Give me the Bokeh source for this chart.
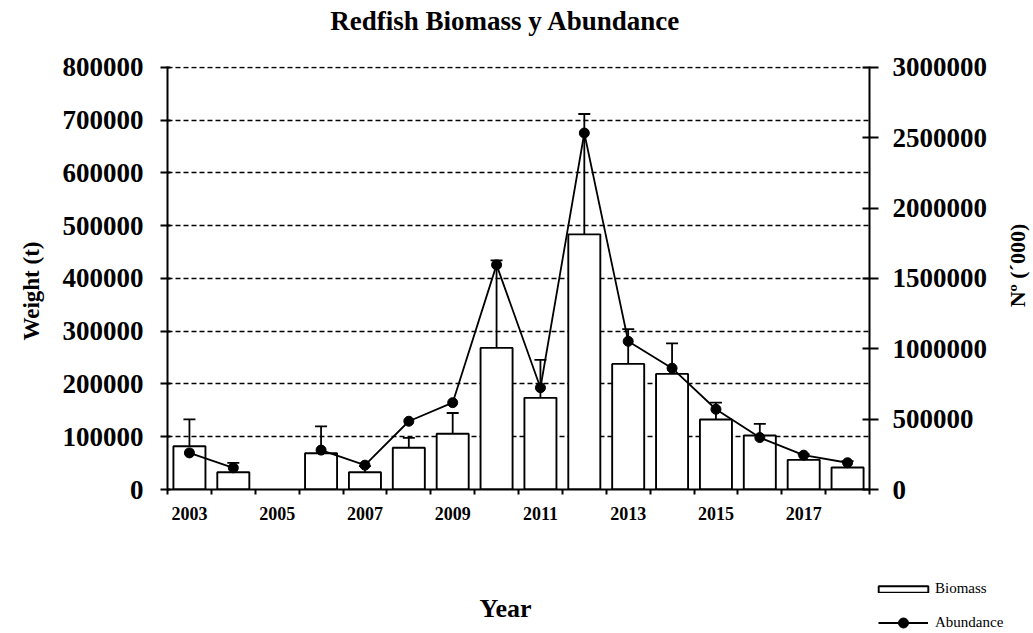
import math
from bokeh.plotting import figure
from bokeh.layouts import column, row
from bokeh.models import (Range1d, LinearAxis, FixedTicker, NumeralTickFormatter,
                          ColumnDataSource, Whisker, TeeHead, Label, Legend, LegendItem, Title)
from bokeh.embed import file_html
from bokeh.resources import INLINE

# ---------------- data ----------------
years = [2003, 2004, 2005, 2006, 2007, 2008, 2009, 2010,
         2011, 2012, 2013, 2014, 2015, 2016, 2017, 2018]
biomass = [82000, 32800, None, 68800, 32800, 79000, 105500, 268300,
           173700, 483500, 238000, 219000, 132600, 102300, 56200, 41700]
biomass_err = [51000, 17500, None, 50800, 11500, 19000, 39500, 166000,
               72000, 228000, 66000, 58000, 32000, 22000, 10400, 12000]
abundance = [260000, 154000, None, 280000, 173000, 485000, 617000, 1596000,
             723000, 2533000, 1053000, 862000, 570000, 369000, 244000, 190000]
x_label_years = [2003, 2005, 2007, 2009, 2011, 2013, 2015, 2017]
left_ticks = [0, 100000, 200000, 300000, 400000, 500000, 600000, 700000, 800000]
right_ticks = [0, 500000, 1000000, 1500000, 2000000, 2500000, 3000000]

title_text = "Redfish Biomass y Abundance"
ylabel_left = "Weight (t)"
ylabel_right = "Nº (´000)"
xlabel = "Year"
legend_labels = ["Biomass", "Abundance"]

FONT = "Liberation Serif"
W = 1033
W_MAIN, W_RIGHT = 1005, 28
H_TOP, H_MAIN, H_BOT = 48, 512, 73

# ---------------- sources ----------------
bx, bt, blo, bhi = [], [], [], []
for y, b, e in zip(years, biomass, biomass_err):
    if b is not None:
        bx.append(y)
        bt.append(b)
        blo.append(b - e)
        bhi.append(b + e)
bar_src = ColumnDataSource(dict(x=bx, top=bt, lower=blo, upper=bhi))
ab_src = ColumnDataSource(dict(x=years, y=[float("nan") if a is None else a for a in abundance]))


def blank(width, height):
    f = figure(width=width, height=height, output_backend="svg", toolbar_location=None,
               x_axis_type=None, y_axis_type=None,
               x_range=Range1d(0, width), y_range=Range1d(0, height),
               min_border=0, min_border_left=0, min_border_right=0,
               min_border_top=0, min_border_bottom=0)
    f.outline_line_color = None
    f.grid.visible = False
    f.frame_align = False
    return f


def text_label(fig, text, x, y, size, angle=0.0):
    fig.add_layout(Label(x=x, y=y, x_units="screen", y_units="screen",
                         text=text, text_font=FONT, text_font_size=size,
                         text_font_style="bold", text_color="black",
                         text_align="center", text_baseline="middle", angle=angle))


# ---------------- title strip ----------------
p0 = blank(W, H_TOP)
text_label(p0, title_text, 505, 28, "27px")

# ---------------- main chart ----------------
pad = 1.0 + 0.8 / 423.0   # keeps the top dashed grid line just inside the frame
p = figure(width=W_MAIN, height=H_MAIN, output_backend="svg", toolbar_location=None,
           x_range=Range1d(years[0] - 0.5, years[-1] + 0.5),
           y_range=Range1d(left_ticks[0], left_ticks[-1] * pad),
           min_border_left=167, min_border_right=W_MAIN - 869,
           min_border_top=18, min_border_bottom=71)
p.frame_align = False
p.extra_y_ranges = {"right": Range1d(right_ticks[0], right_ticks[-1] * pad)}
p.outline_line_color = None

# x axis
xa = p.xaxis[0]
xa.ticker = FixedTicker(ticks=x_label_years,
                        minor_ticks=[y - 0.5 for y in years] + [years[-1] + 0.5])
xa.major_tick_in = 0
xa.major_tick_out = 0
xa.minor_tick_in = 0
xa.minor_tick_out = 5
xa.minor_tick_line_color = "black"
xa.minor_tick_line_width = 2
xa.axis_line_width = 2
xa.axis_line_color = "black"
xa.major_label_text_font = FONT
xa.major_label_text_font_style = "bold"
xa.major_label_text_font_size = "18px"
xa.major_label_text_color = "black"
xa.major_label_standoff = 12

# left y axis
ya = p.yaxis[0]
ya.ticker = FixedTicker(ticks=left_ticks, minor_ticks=[])
ya.formatter = NumeralTickFormatter(format="0")
ya.major_tick_in = 3
ya.major_tick_out = 7
ya.major_tick_line_width = 2
ya.axis_line_width = 2
ya.major_label_text_font = FONT
ya.major_label_text_font_style = "bold"
ya.major_label_text_font_size = "27px"
ya.major_label_text_color = "black"
ya.major_label_standoff = 17

p.add_layout(Title(text=ylabel_left, align="left", offset=149, standoff=30,
                   vertical_align="middle",
                   text_font=FONT, text_font_size="23px", text_font_style="bold",
                   text_color="black"), "left")

# right y axis
ra = LinearAxis(y_range_name="right",
                ticker=FixedTicker(ticks=right_ticks, minor_ticks=[]),
                formatter=NumeralTickFormatter(format="0"))
ra.major_tick_in = 7
ra.major_tick_out = 9
ra.major_tick_line_width = 2
ra.axis_line_width = 2
ra.major_label_text_font = FONT
ra.major_label_text_font_style = "bold"
ra.major_label_text_font_size = "27px"
ra.major_label_text_color = "black"
ra.major_label_standoff = 14
p.add_layout(ra, "right")

# grid
p.xgrid.visible = False
p.ygrid.ticker = FixedTicker(ticks=left_ticks, minor_ticks=[])
p.ygrid.grid_line_color = "black"
p.ygrid.grid_line_dash = "5 3"
p.ygrid.grid_line_width = 1.7

# glyphs
bar_style = dict(fill_color="white", line_color="black", line_width=1.9)
line_style = dict(line_color="black", line_width=1.8)
dot_style = dict(marker="circle", size=10, fill_color="black", line_color="black")

bars = p.vbar(x="x", top="top", bottom=0, width=0.73, source=bar_src, **bar_style)
p.add_layout(Whisker(base="x", lower="lower", upper="upper", source=bar_src,
                     line_color="black", line_width=1.8,
                     upper_head=TeeHead(size=12, line_width=1.8, line_color="black"),
                     lower_head=TeeHead(size=12, line_width=1.8, line_color="black")))
ab_line = p.line(x="x", y="y", source=ab_src, y_range_name="right", **line_style)
ab_dots = p.scatter(x="x", y="y", source=ab_src, y_range_name="right", **dot_style)

# ---------------- right strip: right-axis title ----------------
pR = blank(W_RIGHT, H_MAIN)
text_label(pR, ylabel_right, 12, H_MAIN - (265 - H_TOP), "22px", angle=math.pi / 2)

# ---------------- bottom strip: x title + legend ----------------
p2 = blank(W, H_BOT)
text_label(p2, xlabel, 505, 25, "26px")
# hidden legend proxies that share the chart's data
lg_bar = p2.vbar(x="x", top="top", bottom=0, width=0.73, source=bar_src,
                 visible=False, **bar_style)
lg_line = p2.line(x="x", y="y", source=ab_src, visible=False, **line_style)
lg_dot = p2.scatter(x="x", y="y", source=ab_src, visible=False, **dot_style)

legA = Legend(items=[LegendItem(label=legend_labels[0], renderers=[lg_bar])],
              location=(872, 36), glyph_width=62, glyph_height=8,
              label_height=8, label_standoff=1, padding=0, margin=0, spacing=0,
              border_line_color=None, background_fill_alpha=0,
              inactive_fill_alpha=0,
              label_text_font=FONT, label_text_font_size="15px",
              label_text_color="black",
              label_text_baseline="alphabetic")
legB = Legend(items=[LegendItem(label=legend_labels[1], renderers=[lg_line, lg_dot])],
              location=(878, -2), glyph_width=50, glyph_height=25,
              label_height=25, label_standoff=7, padding=0, margin=0, spacing=0,
              border_line_color=None, background_fill_alpha=0,
              inactive_fill_alpha=0,
              label_text_font=FONT, label_text_font_size="15px",
              label_text_color="black")
p2.add_layout(legA)
p2.add_layout(legB)

layout = column(p0, row(p, pR, spacing=0), p2, spacing=0)
open("out.html", "w").write(file_html(layout, INLINE))
